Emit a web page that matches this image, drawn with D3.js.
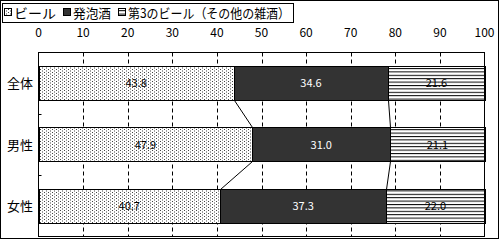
<!DOCTYPE html>
<html>
<head>
<meta charset="utf-8">
<title>ビール類の構成比</title>
<script src="https://d3js.org/d3.v7.min.js"></script>
<style>
body { margin: 0; background: #fff; }
text { font-family: "Noto Sans CJK JP", sans-serif; }
</style>
</head>
<body>
<script>
// data
var groups = ["全体", "男性", "女性"];
var seriesNames = ["ビール", "発泡酒", "第3のビール（その他の雑酒）"];
var beer = [43.8, 47.9, 40.7];
var happoshu = [34.6, 31.0, 37.3];
var third = [21.6, 21.1, 22.0];
var ticks = [0, 10, 20, 30, 40, 50, 60, 70, 80, 90, 100];

var w = 500, h = 241;
// note: "top" is taken by window.top, so use pLeft/pTop...
var pLeft = 38.5, pRight = 484.5, pTop = 52.5, pBottom = 236.5;

var svg = d3.select("body").append("svg")
    .attr("width", w)
    .attr("height", h);

var defs = svg.append("defs");
var dots = defs.append("pattern").attr("id", "dots")
    .attr("patternUnits", "userSpaceOnUse").attr("width", 4).attr("height", 3);
dots.append("rect").attr("width", 4).attr("height", 3).attr("fill", "#fff");
dots.append("rect").attr("x", 0).attr("y", 0).attr("width", 1).attr("height", 1).attr("fill", "#444");
dots.append("rect").attr("x", 2).attr("y", 1.5).attr("width", 1).attr("height", 1).attr("fill", "#444");
var stripes = defs.append("pattern").attr("id", "stripes")
    .attr("patternUnits", "userSpaceOnUse").attr("width", 4).attr("height", 3.4);
stripes.append("rect").attr("width", 4).attr("height", 3.4).attr("fill", "#fff");
stripes.append("rect").attr("y", 0).attr("width", 4).attr("height", 1).attr("fill", "#000");

var fills = ["url(#dots)", "#333", "url(#stripes)"];
var textCol = ["#000", "#fff", "#000"];

// outer frame
svg.append("rect").attr("x", 0.5).attr("y", 0.5).attr("width", 498).attr("height", 238)
    .attr("fill", "none").attr("stroke", "#000");

var x = d3.scaleLinear().domain([0, 100]).range([pLeft, pRight]);
var y = d3.scaleBand().domain(groups).range([pTop, pBottom])
    .paddingInner(0.445).paddingOuter(0.2225);

// dashed grid
svg.append("g").selectAll("line")
  .data(ticks.slice(1, -1))
  .join("line")
    .attr("x1", d => Math.round(x(d)) + 0.5).attr("x2", d => Math.round(x(d)) + 0.5)
    .attr("y1", pTop).attr("y2", pBottom)
    .attr("stroke", "#000").attr("stroke-dasharray", "4,3");

// tick labels on top
svg.append("g").selectAll("text")
  .data(ticks)
  .join("text")
    .attr("x", d => x(d)).attr("y", 37)
    .attr("text-anchor", "middle")
    .attr("font-size", 12)
    .text(d => d);

// stacked bars
var rows = groups.map(function(g, i) {
  var vals = [beer[i], happoshu[i], third[i]];
  var acc = 0;
  return vals.map(function(v, k) {
    var seg = {g: g, k: k, v: v, x0: acc, x1: acc + v};
    acc += v;
    return seg;
  });
});

var bars = svg.append("g");
rows.forEach(function(row) {
  bars.selectAll(null).data(row).enter().append("rect")
      .attr("x", d => Math.round(x(d.x0)) + 0.5)
      .attr("y", d => Math.round(y(d.g)) + 0.5)
      .attr("width", d => Math.round(x(d.x1)) - Math.round(x(d.x0)))
      .attr("height", Math.round(y.bandwidth()))
      .attr("fill", d => fills[d.k])
      .attr("stroke", "#000");
  bars.selectAll(null).data(row).enter().append("text")
      .attr("x", d => x((d.x0 + d.x1) / 2))
      .attr("y", d => y(d.g) + y.bandwidth() / 2 + 4)
      .attr("text-anchor", "middle")
      .attr("font-size", 11)
      .attr("fill", d => textCol[d.k])
      .text(d => d.v.toFixed(1));
});

// series lines between bars
for (var i = 0; i < groups.length - 1; i++) {
  [0, 1].forEach(function(k) {
    var a = rows[i][k].x1, b = rows[i + 1][k].x1;
    svg.append("line")
      .attr("x1", Math.round(x(a)) + 0.5)
      .attr("y1", Math.round(y(groups[i])) + Math.round(y.bandwidth()) + 0.5)
      .attr("x2", Math.round(x(b)) + 0.5)
      .attr("y2", Math.round(y(groups[i + 1])) + 0.5)
      .attr("stroke", "#000");
  });
}

// plot frame
svg.append("rect").attr("x", pLeft).attr("y", pTop)
    .attr("width", pRight - pLeft).attr("height", pBottom - pTop)
    .attr("fill", "none").attr("stroke", "#000");

// category ticks at band boundaries
svg.append("g").selectAll("line")
  .data(groups.slice(1))
  .join("line")
    .attr("x1", pLeft).attr("x2", pLeft + 3)
    .attr("y1", d => Math.round(y(d) - y.step() * y.paddingInner() / 2) + 0.5)
    .attr("y2", d => Math.round(y(d) - y.step() * y.paddingInner() / 2) + 0.5)
    .attr("stroke", "#000");

// category labels
svg.append("g").selectAll("text")
  .data(groups)
  .join("text")
    .attr("x", 33).attr("y", d => y(d) + y.bandwidth() / 2 + 5)
    .attr("text-anchor", "end")
    .attr("font-size", 13)
    .text(d => d);

// legend (text squeezed to the widths seen in the picture)
var legendW = [42, 38, 162];
var lg = svg.append("g");
lg.append("rect").attr("x", 2.5).attr("y", 3.5)
  .attr("width", 291).attr("height", 19)
  .attr("fill", "#fff").attr("stroke", "#000");
var lx = 4;
seriesNames.forEach(function(name, k) {
  lg.append("rect").attr("x", lx + 0.5).attr("y", 8.5).attr("width", 7).attr("height", 7)
    .attr("fill", fills[k]).attr("stroke", "#000");
  lg.append("text").attr("x", lx + 10).attr("y", 17.5)
    .attr("font-size", 13)
    .attr("textLength", legendW[k]).attr("lengthAdjust", "spacingAndGlyphs")
    .text(name);
  lx += 10 + legendW[k] + 7;
});
</script>
</body>
</html>
